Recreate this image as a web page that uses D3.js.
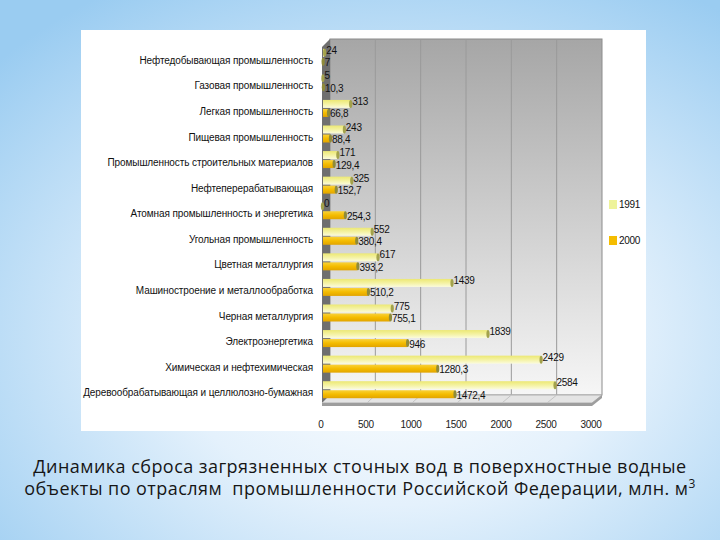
<!DOCTYPE html>
<html>
<head>
<meta charset="utf-8">
<script src="https://cdn.jsdelivr.net/npm/d3@7"></script>
<style>
  body { margin: 0; }
  svg { display: block; }
</style>
</head>
<body>
<div id="chart"></div>
<script>
// data
var categories = [
  "Нефтедобывающая промышленность",
  "Газовая промышленность",
  "Легкая промышленность",
  "Пищевая промышленность",
  "Промышленность строительных материалов",
  "Нефтеперерабатывающая",
  "Атомная промышленность и энергетика",
  "Угольная промышленность",
  "Цветная металлургия",
  "Машиностроение и металлообработка",
  "Черная металлургия",
  "Электроэнергетика",
  "Химическая и нефтехимическая",
  "Деревообрабатывающая и целлюлозно-бумажная"
];
var values1991 = [24, 5, 313, 243, 171, 325, 0, 552, 617, 1439, 775, 1839, 2429, 2584];
var values2000 = [7, 10.3, 66.8, 88.4, 129.4, 152.7, 254.3, 380.4, 393.2, 510.2, 755.1, 946, 1280.3, 1472.4];
var seriesNames = ["1991", "2000"];
var xTicks = [0, 500, 1000, 1500, 2000, 2500, 3000];
var titleLines = [
  "Динамика сброса загрязненных сточных вод в поверхностные водные",
  "объекты по отраслям  промышленности Российской Федерации, млн. м"
];

// svg dimensions
var svgWidth = 720;
var svgHeight = 540;

var svg = d3.select("#chart")
  .append("svg")
  .attr("width", svgWidth)
  .attr("height", svgHeight);

var defs = svg.append("defs");

// slide background
var bg = defs.append("radialGradient")
  .attr("id", "bg")
  .attr("cx", "0.55").attr("cy", "0.62").attr("r", "0.75");
bg.append("stop").attr("offset", "0").attr("stop-color", "#ffffff");
bg.append("stop").attr("offset", "0.42").attr("stop-color", "#e4f1fc");
bg.append("stop").attr("offset", "1").attr("stop-color", "#9accf1");

var wall = defs.append("linearGradient")
  .attr("id", "wall").attr("x1", 0).attr("y1", 0).attr("x2", 0).attr("y2", 1);
wall.append("stop").attr("offset", "0").attr("stop-color", "#a6a6a6");
wall.append("stop").attr("offset", "0.6").attr("stop-color", "#d6d6d6");
wall.append("stop").attr("offset", "1").attr("stop-color", "#f6f6f6");

var g1991 = defs.append("linearGradient")
  .attr("id", "g1991").attr("x1", 0).attr("y1", 0).attr("x2", 0).attr("y2", 1);
g1991.append("stop").attr("offset", "0").attr("stop-color", "#ece874");
g1991.append("stop").attr("offset", "0.5").attr("stop-color", "#f4f2a2");
g1991.append("stop").attr("offset", "1").attr("stop-color", "#fbfbdc");

var g2000 = defs.append("linearGradient")
  .attr("id", "g2000").attr("x1", 0).attr("y1", 0).attr("x2", 0).attr("y2", 1);
g2000.append("stop").attr("offset", "0").attr("stop-color", "#f9d23a");
g2000.append("stop").attr("offset", "0.5").attr("stop-color", "#f4bc00");
g2000.append("stop").attr("offset", "1").attr("stop-color", "#e2a400");

svg.append("rect")
  .attr("width", svgWidth)
  .attr("height", svgHeight)
  .attr("fill", "url(#bg)");

// white panel
svg.append("rect")
  .attr("x", 81).attr("y", 30)
  .attr("width", 565).attr("height", 401)
  .attr("fill", "#ffffff");

// scales (front plane and back wall)
var xScale = d3.scaleLinear().domain([0, 3000]).range([322, 592]);
var xBack = d3.scaleLinear().domain([0, 3000]).range([330, 602]);
var depth = 8;
var wallTop = 39;
var floorY = 395;

var yScale = d3.scaleBand()
  .domain(categories)
  .range([45, 403]);
var barH = 9;
var ySub = d3.scaleBand()
  .domain(seriesNames)
  .range([yScale.bandwidth() / 2 - barH, yScale.bandwidth() / 2 + barH]);

// back wall
svg.append("rect")
  .attr("x", xBack(0)).attr("y", wallTop)
  .attr("width", xBack(3000) - xBack(0))
  .attr("height", floorY - wallTop)
  .attr("fill", "url(#wall)")
  .attr("stroke", "#8c8c8c")
  .attr("stroke-width", 1);

// gridlines on back wall
svg.selectAll(".grid")
  .data(xTicks.slice(1, -1))
  .enter()
  .append("line")
  .attr("x1", d => xBack(d)).attr("x2", d => xBack(d))
  .attr("y1", wallTop).attr("y2", floorY)
  .attr("stroke", "#9a9a9a")
  .attr("stroke-width", 1);

// left side wall
svg.append("polygon")
  .attr("points", [
    [xScale(0), wallTop + depth], [xBack(0), wallTop],
    [xBack(0), floorY], [xScale(0), floorY + depth]].join(" "))
  .attr("fill", "#6f6f6f");

// floor
svg.append("polygon")
  .attr("points", [
    [xScale(0), floorY + depth], [xBack(0), floorY],
    [xBack(3000), floorY], [xScale(3000), floorY + depth]].join(" "))
  .attr("fill", "#e4e4e4")
  .attr("stroke", "#b0b0b0");
svg.append("polygon")
  .attr("points", [
    [xScale(0), floorY + depth], [xScale(3000), floorY + depth],
    [xBack(3000), floorY], [xBack(3000), floorY + 3],
    [xScale(3000), floorY + depth + 3], [xScale(0), floorY + depth + 3]].join(" "))
  .attr("fill", "#9d9d9d");

// floor gridlines
svg.selectAll(".fgrid")
  .data(xTicks.slice(1, -1))
  .enter()
  .append("line")
  .attr("x1", d => xBack(d)).attr("y1", floorY)
  .attr("x2", d => xScale(d)).attr("y2", floorY + depth)
  .attr("stroke", "#c4c4c4");

// bars
var rows = svg.selectAll(".row")
  .data(categories)
  .enter()
  .append("g")
  .attr("transform", d => `translate(0, ${yScale(d)})`);

var barData = function(d, i) {
  return [
    {series: "1991", value: values1991[i], fill: "url(#g1991)", cap: "#a3a24c"},
    {series: "2000", value: values2000[i], fill: "url(#g2000)", cap: "#8f8b3a"}
  ];
};

var bars = rows.selectAll(".bar")
  .data(barData)
  .enter()
  .append("g");

bars.filter(d => d.value > 0)
  .append("rect")
  .attr("x", xScale(0) + 1)
  .attr("y", d => ySub(d.series))
  .attr("width", d => Math.max(0, xScale(d.value) - xScale(0) - 1))
  .attr("height", barH - 1)
  .attr("fill", d => d.fill);

bars.append("ellipse")
  .attr("cx", d => xScale(d.value) + 0.5)
  .attr("cy", d => ySub(d.series) + (barH - 1) / 2)
  .attr("rx", 1.6)
  .attr("ry", (barH - 1) / 2)
  .attr("fill", d => d.cap);

// value labels
var fmt = function(v) { return String(v).replace(".", ","); };
bars.append("text")
  .attr("x", d => xScale(d.value) + 2)
  .attr("y", d => d.series === "1991" ? ySub(d.series) + 5 : ySub(d.series) + 8.5)
  .attr("font-family", "Liberation Sans, Arial, sans-serif")
  .attr("font-size", 10)
  .attr("letter-spacing", -0.3)
  .attr("fill", "#111")
  .text(d => fmt(d.value));

// category labels
svg.selectAll(".cat")
  .data(categories)
  .enter()
  .append("text")
  .attr("x", 313)
  .attr("y", d => yScale(d) + yScale.bandwidth() / 2 + 6)
  .attr("text-anchor", "end")
  .attr("font-family", "Liberation Sans, Arial, sans-serif")
  .attr("font-size", 10)
  .attr("letter-spacing", -0.1)
  .attr("fill", "#111")
  .text(d => d);

// x axis labels
svg.selectAll(".xtick")
  .data(xTicks)
  .enter()
  .append("text")
  .attr("x", d => xScale(d) - 1)
  .attr("y", 428)
  .attr("text-anchor", "middle")
  .attr("font-family", "Liberation Sans, Arial, sans-serif")
  .attr("font-size", 10)
  .attr("letter-spacing", -0.3)
  .attr("fill", "#222")
  .text(d => d);

// legend
svg.append("rect")
  .attr("x", 603).attr("y", 192)
  .attr("width", 40).attr("height", 62)
  .attr("fill", "#ffffff");
var legend = svg.selectAll(".legend")
  .data(seriesNames)
  .enter()
  .append("g")
  .attr("transform", (d, i) => `translate(609, ${200 + i * 36})`);
legend.append("rect")
  .attr("width", 8).attr("height", 9)
  .attr("fill", (d, i) => i === 0 ? "#eef39a" : "#f5bd00");
legend.append("text")
  .attr("x", 10).attr("y", 8)
  .attr("font-family", "Liberation Sans, Arial, sans-serif")
  .attr("font-size", 10)
  .attr("letter-spacing", -0.3)
  .attr("fill", "#111")
  .text(d => d);

// title
var title = svg.selectAll(".title")
  .data(titleLines)
  .enter()
  .append("text")
  .attr("x", 360)
  .attr("y", (d, i) => 473 + i * 22)
  .attr("text-anchor", "middle")
  .attr("font-family", "Open Sans, sans-serif")
  .attr("font-size", 18)
  .attr("letter-spacing", 0.45)
  .attr("fill", "#161616")
  .attr("xml:space", "preserve")
  .text(d => d);
title.filter((d, i) => i === 1)
  .append("tspan")
  .attr("dy", -7)
  .attr("font-size", 12)
  .text("3");
</script>
</body>
</html>
